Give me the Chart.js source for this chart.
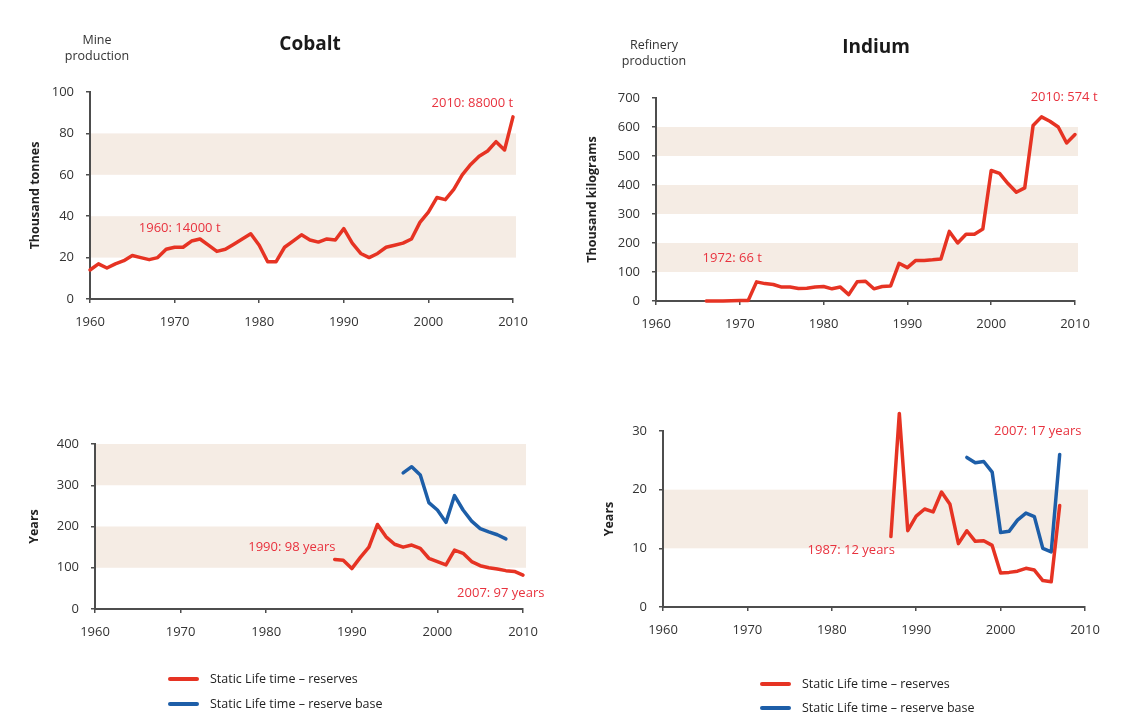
<!DOCTYPE html>
<html>
<head>
<meta charset="utf-8">
<script src="https://cdn.jsdelivr.net/npm/chart.js@4.4.0/dist/chart.umd.min.js"></script>
<style>
  body { margin: 0; background: #fff; width: 1122px; height: 722px; position: relative; overflow: hidden; font-family: "Open Sans", "Noto Sans", sans-serif; color: #333; }
  canvas { position: absolute; left: 0; top: 0; }
  .lbl { position: absolute; text-align: center; line-height: 16px; font-size: 12.5px; color: #333; transform: translateX(-50%); white-space: nowrap; }
  .ttl { position: absolute; font-weight: bold; font-size: 19px; color: #1a1a1a; transform: translate(-50%, -50%); }
  .leg { position: absolute; font-size: 12.5px; color: #222; white-space: nowrap; }
  .leg span { display: inline-block; width: 31px; height: 4px; border-radius: 2px; vertical-align: middle; margin-right: 11px; position: relative; top: -1px; }
</style>
</head>
<body>
<canvas id="cobaltProd" width="1122" height="722"></canvas>
<canvas id="indiumProd" width="1122" height="722"></canvas>
<canvas id="cobaltLife" width="1122" height="722"></canvas>
<canvas id="indiumLife" width="1122" height="722"></canvas>

<div class="lbl" style="left:97px; top:32px;">Mine<br>production</div>
<div class="ttl" style="left:310px; top:43px;">Cobalt</div>
<div class="lbl" style="left:654px; top:37px;">Refinery<br>production</div>
<div class="ttl" style="left:876px; top:46px;">Indium</div>

<div class="leg" style="left:168px; top:670px;"><span style="background:#e63323"></span>Static Life time – reserves</div>
<div class="leg" style="left:168px; top:695px;"><span style="background:#1d5ea8"></span>Static Life time – reserve base</div>
<div class="leg" style="left:760px; top:675px;"><span style="background:#e63323"></span>Static Life time – reserves</div>
<div class="leg" style="left:760px; top:699px;"><span style="background:#1d5ea8"></span>Static Life time – reserve base</div>

<script>
'use strict';

const years = [1960, 1961, 1962, 1963, 1964, 1965, 1966, 1967, 1968, 1969,
  1970, 1971, 1972, 1973, 1974, 1975, 1976, 1977, 1978, 1979,
  1980, 1981, 1982, 1983, 1984, 1985, 1986, 1987, 1988, 1989,
  1990, 1991, 1992, 1993, 1994, 1995, 1996, 1997, 1998, 1999,
  2000, 2001, 2002, 2003, 2004, 2005, 2006, 2007, 2008, 2009, 2010];

// cobalt mine production, thousand tonnes, 1960-2010
const cobaltMine = [14, 17, 15, 17, 18.5, 21, 20, 19, 20, 24,
  25, 25, 28, 29, 26, 23, 24, 26.5, 29, 31.5,
  26, 18, 18, 25, 28, 31, 28.5, 27.5, 29, 28.5,
  34, 27, 22, 20, 22, 25, 26, 27, 29, 37,
  42, 49, 48, 53, 60, 65, 69, 71.5, 76, 72, 88];

// indium refinery production, thousand kg, 1966-2010
const indiumStart = 1966;
const indiumRefinery = [0, 0, 0, 1, 2, 2,
  66, 60, 57, 48, 48, 43, 44, 48,
  50, 42, 48, 22, 66, 68, 42, 50, 52, 130,
  115, 140, 140, 142, 145, 240, 200, 230, 230, 248,
  450, 440, 405, 375, 390, 605, 635, 620, 600, 545, 574];

// static life time, years
const cobaltResStart = 1988;
const cobaltReserves = [120, 118, 98, 125, 150, 205, 175, 157, 150, 155, 147, 123,
  115, 107, 143, 135, 115, 105, 100, 97, 93, 91, 82];
const cobaltBaseStart = 1996;
const cobaltReserveBase = [330, 345, 325, 258, 240, 210, 275, 240, 213, 195, 187, 180, 170];

const indiumResStart = 1987;
const indiumReserves = [12, 33, 13, 15.5, 16.7, 16.2, 19.6, 17.5, 10.8, 13, 11.2, 11.3, 10.5,
  5.8, 5.9, 6.1, 6.6, 6.3, 4.5, 4.3, 17.3];
const indiumBaseStart = 1996;
const indiumReserveBase = [25.5, 24.6, 24.8, 23, 12.7, 12.9, 14.8, 16, 15.4, 10, 9.4, 26];

const RED = '#e63323';
const BLUE = '#1d5ea8';
const NOTE = '#e8323e';
const AXIS = '#4d4d4d';
const BAND = '#f5ece4';
const FONT = '"Open Sans", "Noto Sans", sans-serif';

function points (start, vals) {
  let yrs = years.slice(years.indexOf(start));
  return vals.map((v, i) => ({ x: yrs[i], y: v }));
}

// shaded bands behind the lines + red notes
const extras = {
  id: 'extras',
  beforeDraw (chart, args, opts) {
    let { ctx, chartArea, scales } = chart;
    let x0 = chartArea.left + 1;
    let x1 = scales.x.getPixelForValue(2010) + 3;
    ctx.save();
    ctx.fillStyle = BAND;
    (opts.bands || []).forEach(b => {
      let yTop = scales.y.getPixelForValue(b[1]);
      let yBot = scales.y.getPixelForValue(b[0]);
      ctx.fillRect(x0, yTop, x1 - x0, yBot - yTop);
    });
    ctx.restore();
  },
  afterDraw (chart, args, opts) {
    let { ctx, scales } = chart;
    ctx.save();
    ctx.fillStyle = NOTE;
    ctx.font = '13px ' + FONT;
    ctx.textAlign = 'center';
    ctx.textBaseline = 'middle';
    (opts.notes || []).forEach(n => {
      ctx.fillText(n.text, scales.x.getPixelForValue(n.x), scales.y.getPixelForValue(n.y));
    });
    ctx.restore();
  }
};

function makeChart (id, cfg) {
  let a = cfg.area;
  let scaleLeft = cfg.titleX - 7;
  new Chart(document.getElementById(id).getContext('2d'), {
    type: 'line',
    data: {
      datasets: cfg.series.map(s => ({
        data: s.data,
        borderColor: s.color,
        borderWidth: 3.5,
        pointRadius: 0,
        tension: 0,
        fill: false,
        clip: false,
        borderJoinStyle: 'round',
        borderCapStyle: 'round'
      }))
    },
    options: {
      responsive: false,
      animation: false,
      events: [],
      layout: { padding: { left: scaleLeft, right: 1122 - a.r, top: a.t, bottom: 722 - a.b - 34 } },
      plugins: {
        legend: { display: false },
        tooltip: { enabled: false },
        extras: { bands: cfg.bands, notes: cfg.notes }
      },
      scales: {
        x: {
          type: 'linear',
          min: 1960,
          max: 2010,
          afterFit: s => { s.height = 34; },
          grid: { drawOnChartArea: false, drawTicks: true, tickLength: 4, color: AXIS, lineWidth: 1.5 },
          border: { color: AXIS, width: 2 },
          ticks: { stepSize: 10, padding: 11, color: '#333', maxRotation: 0, font: { family: FONT, size: 13 }, callback: v => String(v) }
        },
        y: {
          min: 0,
          max: cfg.yMax,
          afterFit: s => { s.width = a.l - scaleLeft; },
          grid: { drawOnChartArea: false, drawTicks: true, tickLength: 4, color: AXIS, lineWidth: 1.5 },
          border: { color: AXIS, width: 2 },
          ticks: { stepSize: cfg.yStep, padding: 12, color: '#333', font: { family: FONT, size: 13 } },
          title: { display: true, text: cfg.yTitle, color: '#222', padding: 0, font: { family: FONT, size: 12.5, weight: 'bold' } }
        }
      }
    },
    plugins: [extras]
  });
}

makeChart('cobaltProd', {
  area: { l: 90, r: 513, t: 92, b: 299 },
  titleX: 35,
  yTitle: 'Thousand tonnes',
  yMax: 100,
  yStep: 20,
  bands: [[20, 40], [60, 80]],
  series: [{ data: points(1960, cobaltMine), color: RED }],
  notes: [{ x: 2005.2, y: 94.7, text: '2010: 88000 t' }, { x: 1970.6, y: 34.3, text: '1960: 14000 t' }]
});

makeChart('indiumProd', {
  area: { l: 656, r: 1075, t: 98, b: 301 },
  titleX: 592,
  yTitle: 'Thousand kilograms',
  yMax: 700,
  yStep: 100,
  bands: [[100, 200], [300, 400], [500, 600]],
  series: [{ data: points(indiumStart, indiumRefinery), color: RED }],
  notes: [{ x: 2008.7, y: 702, text: '2010: 574 t' }, { x: 1969.1, y: 148, text: '1972: 66 t' }]
});

makeChart('cobaltLife', {
  area: { l: 95, r: 523, t: 444, b: 609 },
  titleX: 34,
  yTitle: 'Years',
  yMax: 400,
  yStep: 100,
  bands: [[100, 200], [300, 400]],
  series: [
    { data: points(cobaltResStart, cobaltReserves), color: RED },
    { data: points(cobaltBaseStart, cobaltReserveBase), color: BLUE }
  ],
  notes: [{ x: 1983.0, y: 150, text: '1990: 98 years' }, { x: 2007.4, y: 39, text: '2007: 97 years' }]
});

makeChart('indiumLife', {
  area: { l: 663, r: 1085, t: 431, b: 607 },
  titleX: 609,
  yTitle: 'Years',
  yMax: 30,
  yStep: 10,
  bands: [[10, 20]],
  series: [
    { data: points(indiumResStart, indiumReserves), color: RED },
    { data: points(indiumBaseStart, indiumReserveBase), color: BLUE }
  ],
  notes: [{ x: 1982.3, y: 9.7, text: '1987: 12 years' }, { x: 2004.4, y: 30, text: '2007: 17 years' }]
});
</script>
</body>
</html>
